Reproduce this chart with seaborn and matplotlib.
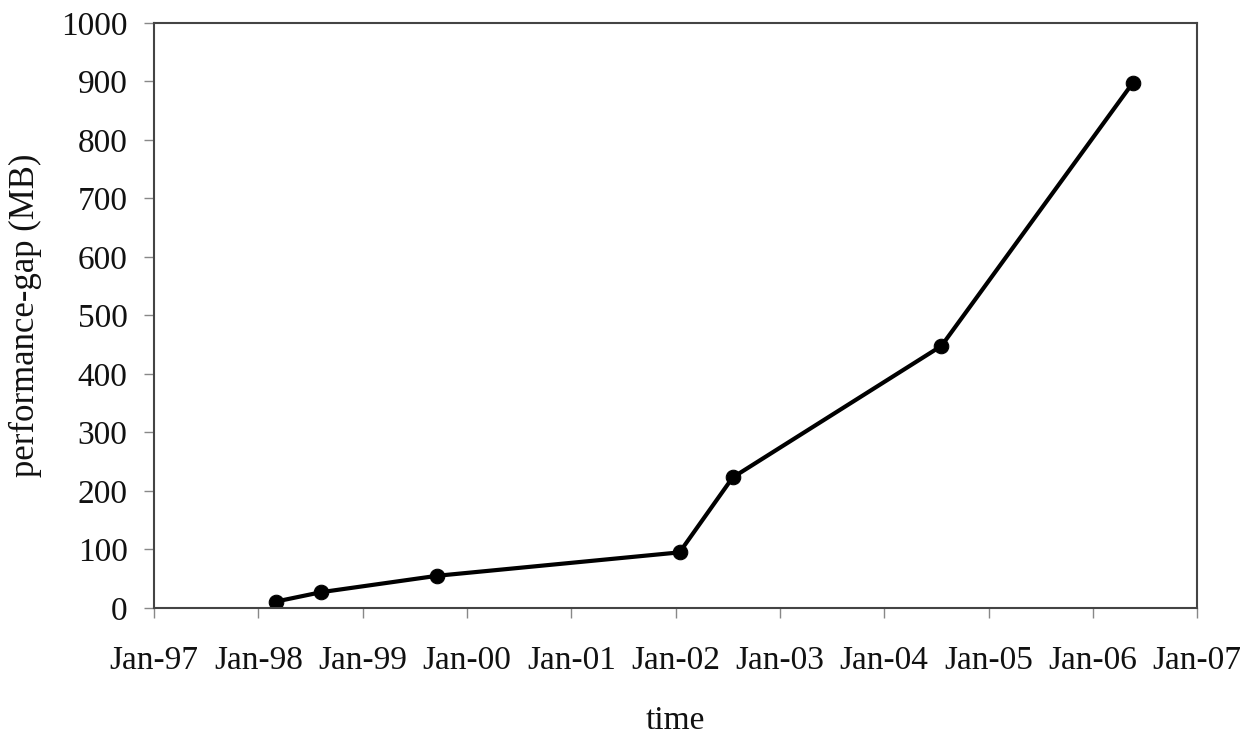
import matplotlib
matplotlib.use("Agg")
import matplotlib.pyplot as plt
import matplotlib.dates as mdates
import seaborn as sns
import pandas as pd

dates = ["1998-03-05", "1998-08-10", "1999-09-20", "2002-01-15",
         "2002-07-20", "2004-07-20", "2006-05-20"]
gap_mb = [11, 27, 55, 95, 223, 448, 897]
year_ticks = [f"{y}-01-01" for y in range(1997, 2008)]

df = pd.DataFrame({"time": pd.to_datetime(dates), "gap": gap_mb})

sns.set_style("ticks")
plt.rcParams["font.family"] = ["Liberation Serif", "DejaVu Serif"]

fig = plt.figure(figsize=(12.47, 7.36), dpi=100)
ax = fig.add_axes([0.1235, 0.174, 0.8365, 0.7948])

sns.lineplot(data=df, x="time", y="gap", ax=ax, color="black",
             linewidth=3.0, marker="o", markersize=10.5,
             markeredgecolor="black", markerfacecolor="black")

ax.set_xlim(pd.Timestamp("1997-01-01"), pd.Timestamp("2007-01-01"))
ax.set_ylim(0, 1000)
ax.set_xticks(pd.to_datetime(year_ticks))
ax.xaxis.set_major_formatter(mdates.DateFormatter("%b-%y"))
ax.set_yticks(range(0, 1001, 100))

for s in ax.spines.values():
    s.set_visible(True)
    s.set_color("#444444")
    s.set_linewidth(1.5)

ax.tick_params(axis="x", direction="out", length=7, width=1, color="#888888",
               labelsize=24, pad=20, labelcolor="#111111")
ax.tick_params(axis="y", direction="out", length=7, width=1, color="#888888",
               labelsize=24, pad=12, labelcolor="#111111")

ax.set_xlabel("time", fontsize=24, labelpad=21, color="#111111")
ax.set_ylabel("performance-gap (MB)", fontsize=25, labelpad=14, color="#111111")

fig.savefig("out.png", dpi=100)
